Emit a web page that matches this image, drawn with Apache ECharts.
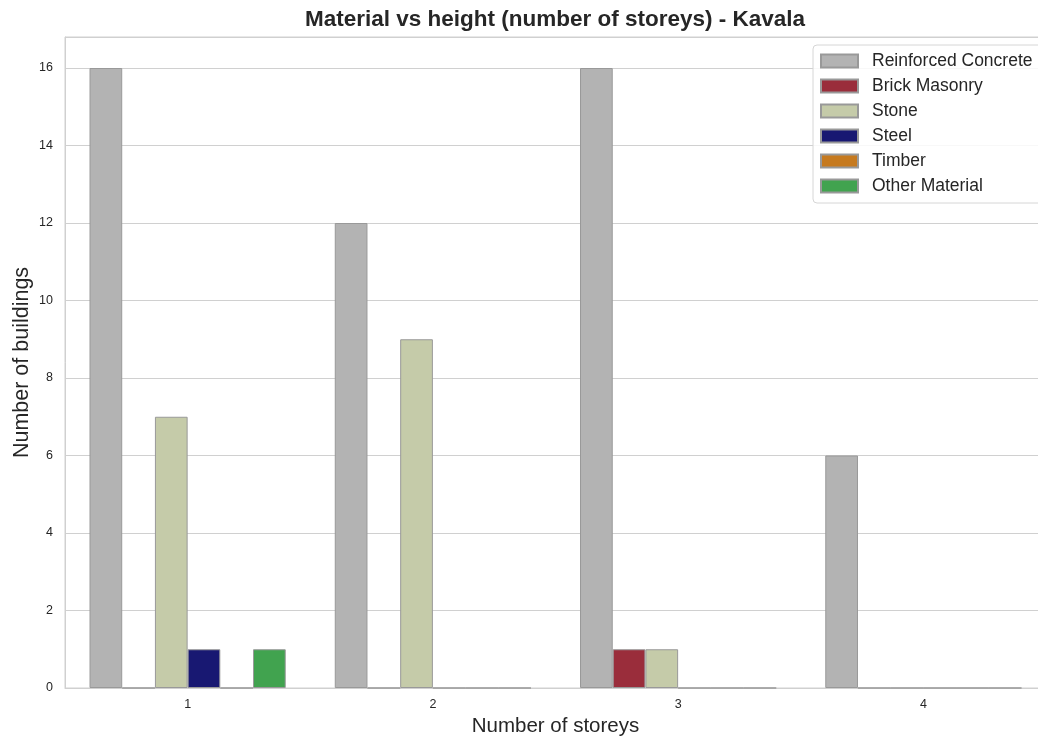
<!DOCTYPE html>
<html><head><meta charset="utf-8">
<script src="https://cdn.jsdelivr.net/npm/echarts@6/dist/echarts.min.js"></script>
<style>html,body{margin:0;padding:0;background:#fff}#c{width:1038px;height:737px}</style>
</head><body><div id="c"></div>
<script>
const categories = ['1', '2', '3', '4'];
const reinforcedConcrete = [16, 12, 16, 6];
const brickMasonry = [0, 0, 1, 0];
const stone = [7, 9, 1, 0];
const steel = [1, 0, 0, 0];
const timber = [0, 0, 0, 0];
const otherMaterial = [1, 0, 0, 0];
const yTicks = [0, 2, 4, 6, 8, 10, 12, 14, 16];

const seriesDefs = [
  ['Reinforced Concrete', reinforcedConcrete, '#b3b3b3'],
  ['Brick Masonry', brickMasonry, '#9a2d3b'],
  ['Stone', stone, '#c5cba9'],
  ['Steel', steel, '#181872'],
  ['Timber', timber, '#c67a1f'],
  ['Other Material', otherMaterial, '#41a34f']
];
const font = '"Liberation Sans", Arial, sans-serif';
const chart = echarts.init(document.getElementById('c'), null, {renderer: 'canvas'});
chart.setOption({
  animation: false,
  backgroundColor: '#fff',
  textStyle: {fontFamily: font},
  title: {
    text: 'Material vs height (number of storeys) - Kavala',
    left: 550, top: 3, textAlign: 'center',
    textStyle: {fontFamily: font, fontSize: 22.5, fontWeight: 'bold', color: '#262626'}
  },
  legend: {
    orient: 'vertical', left: 813, top: 45,
    padding: [7, 12, 8, 7],
    itemWidth: 37, itemHeight: 13, itemGap: 7,
    backgroundColor: 'rgba(255,255,255,0.85)',
    borderColor: '#d6d6d6', borderWidth: 1, borderRadius: 4,
    icon: 'rect',
    textStyle: {fontFamily: font, fontSize: 17.5, color: '#262626', padding: [0, 0, 0, 9]},
    data: seriesDefs.map(d => d[0])
  },
  grid: {left: 65, right: -8, top: 37, bottom: 49, show: true, borderColor: '#d0d0d0', borderWidth: 1,
    containLabel: false, outerBoundsMode: 'none'},
  xAxis: {
    type: 'category', data: categories,
    axisLine: {show: true, lineStyle: {color: '#d0d0d0', width: 1}},
    axisTick: {show: false},
    axisLabel: {fontFamily: font, fontSize: 12.5, color: '#262626', margin: 10},
    name: 'Number of storeys', nameLocation: 'middle', nameGap: 28, nameMoveOverlap: false,
    nameTextStyle: {fontFamily: font, fontSize: 20.5, color: '#262626'}
  },
  yAxis: {
    type: 'value', min: 0, max: 16.8, interval: 2,
    axisLine: {show: true, lineStyle: {color: '#d0d0d0'}},
    axisTick: {show: false},
    splitLine: {show: true, lineStyle: {color: '#d0d0d0', width: 1}},
    axisLabel: {fontFamily: font, fontSize: 12.5, color: '#262626', margin: 12, showMaxLabel: false,
      formatter: v => yTicks.includes(v) ? String(v) : ''},
    name: 'Number of buildings', nameLocation: 'middle', nameGap: 32, nameMoveOverlap: false,
    nameTextStyle: {fontFamily: font, fontSize: 21.5, color: '#262626'}
  },
  series: seriesDefs.map(d => ({
    name: d[0], type: 'bar', data: d[1],
    barGap: '0%', barCategoryGap: '20%',
    itemStyle: {color: d[2], borderColor: '#999999', borderWidth: 1}
  }))
});
</script></body></html>
